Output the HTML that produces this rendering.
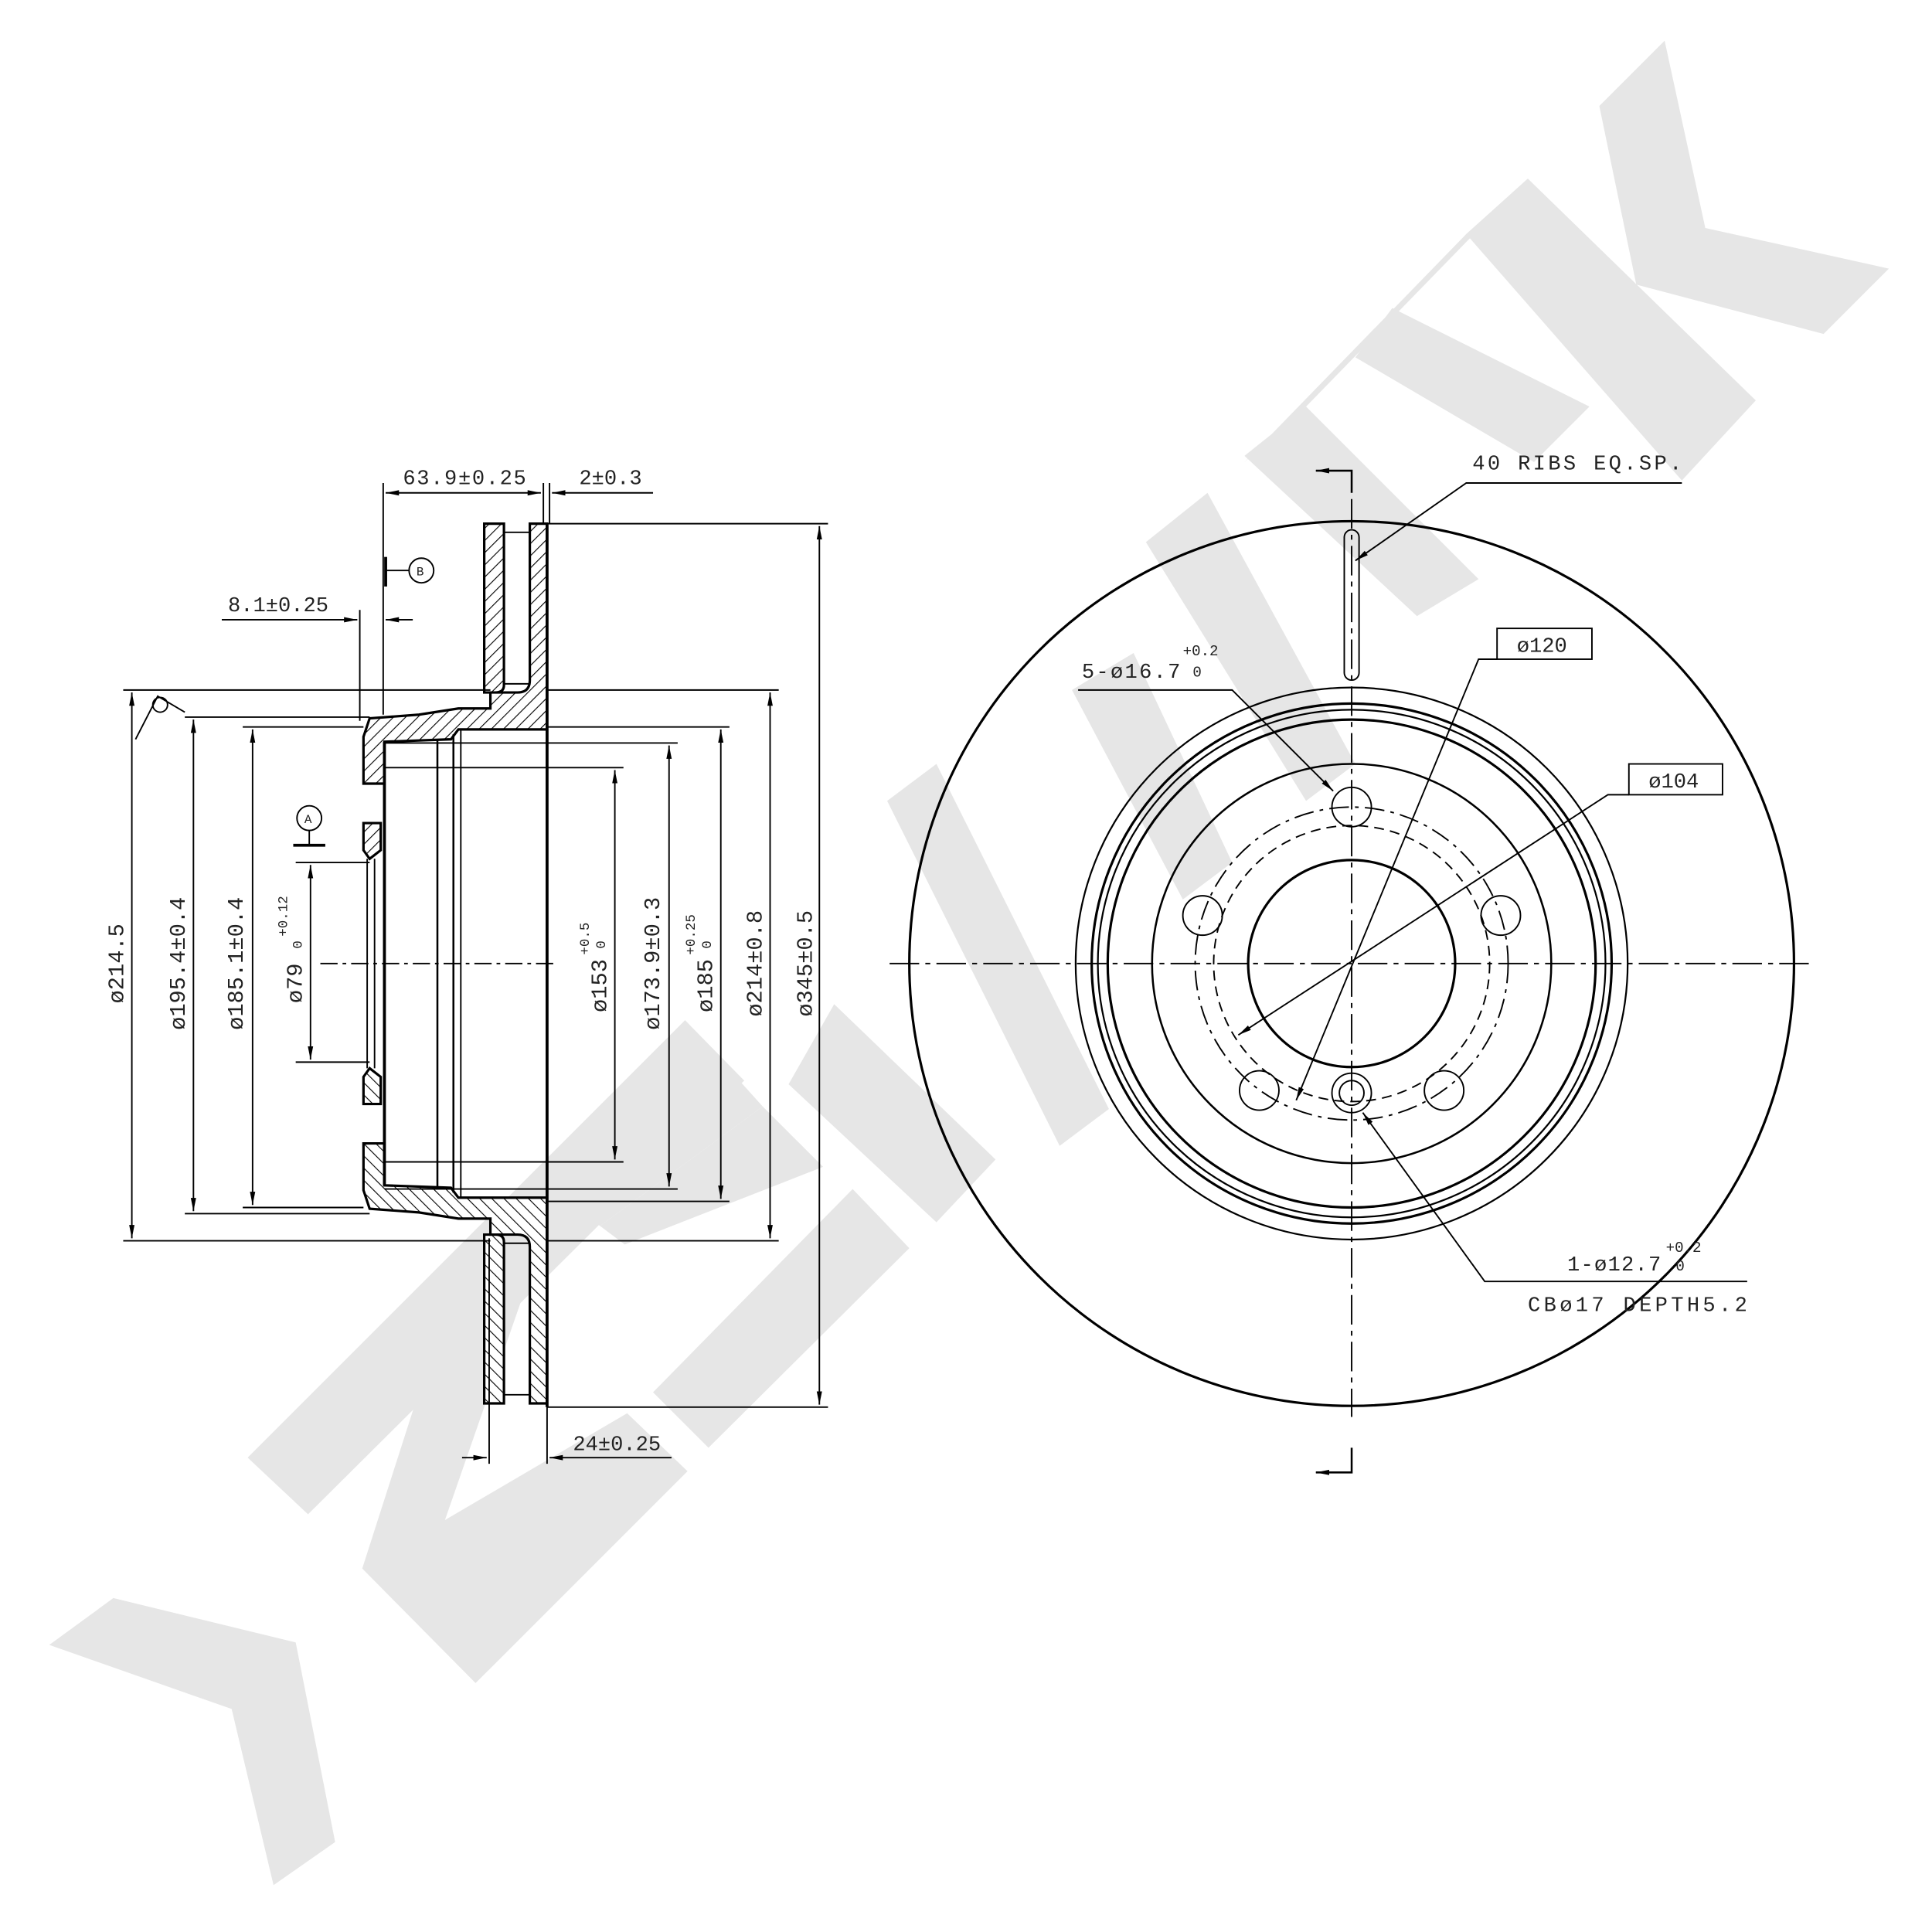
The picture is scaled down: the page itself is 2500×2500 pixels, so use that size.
<!DOCTYPE html>
<html><head><meta charset="utf-8"><style>
html,body{margin:0;padding:0;background:#fff}
svg{display:block}
text{font-family:"Liberation Mono",monospace;fill:#222}
</style></head><body>
<svg width="2500" height="2500" viewBox="0 0 1568 1568" xmlns="http://www.w3.org/2000/svg">
<defs>
<pattern id="h" patternUnits="userSpaceOnUse" width="7" height="7" patternTransform="rotate(45)">
<rect width="7" height="7" fill="#fff"/><line x1="0" y1="0" x2="0" y2="7" stroke="#000" stroke-width="1.4"/>
</pattern>
<marker id="a" viewBox="0 0 10 10" refX="10" refY="5" markerWidth="9" markerHeight="9" orient="auto-start-reverse"><path d="M0,3 L10,5 L0,7z" fill="#000"/></marker>
</defs>
<g fill="#e6e6e6">
<polygon points="40,1335 92,1297 240,1333 272,1495 222,1530 188,1387"/>
<polygon points="201,1183 556,828 604,877 250,1229"/>
<polygon points="379,1008 425,1050 345,1280 294,1273"/>
<polygon points="294,1273 386,1366 558,1194 509,1147"/>
<polygon points="619,898 668,947 507,1010 487,995"/>
<polygon points="556,828 619,898 487,995 440,960"/>
<polygon points="692,965 738,1013 575,1175 530,1130"/>
<polygon points="677,815 808,941 760,992 640,880"/>
<polygon points="720,650 760,620 900,900 860,930"/>
<polygon points="870,560 920,530 1000,700 960,730"/>
<polygon points="930,440 980,400 1100,620 1060,650"/>
<polygon points="1010,370 1060,330 1200,470 1150,500"/>
<polygon points="1190,190 1240,145 1060,330 1010,375"/>
<polygon points="1240,145 1425,325 1365,390 1190,190"/>
<polygon points="1130,250 1290,330 1245,375 1100,290"/>
<polygon points="1351,33 1384,185 1533,218 1480,271 1328,231 1298,86"/>
</g>
<g stroke="#000" fill="none" stroke-width="1.2">
<g id="half">
<path d="M393,425 L409,425 L409,556 Q409,562 402,562 L393,562 Z" fill="url(#h)" stroke-width="2"/>
<path d="M430,425 L444,425 L444,592 L372,592 L366,600 L312,602 L312,636 L295,636 L295,598 L300,583 L340,580 L372,575 L398,575 L398,562 L420,562 Q430,562 430,552 Z" fill="url(#h)" stroke-width="2"/>
<path d="M295,668 L309,668 L309,690 L300,697 L295,690 Z" fill="url(#h)" stroke-width="2"/>
<line x1="409" y1="432" x2="430" y2="432"/>
<line x1="409" y1="555" x2="430" y2="555"/>
</g>
<use href="#half" transform="translate(0,1564) scale(1,-1)"/>
<line x1="444" y1="425" x2="444" y2="1142" stroke-width="2.4"/>
<line x1="312" y1="602" x2="312" y2="962" stroke-width="2.4"/>
<line x1="298" y1="697" x2="298" y2="867"/>
<line x1="304" y1="697" x2="304" y2="867"/>
<line x1="355" y1="600" x2="355" y2="964" stroke-width="1.6"/>
<line x1="368" y1="596" x2="368" y2="968" stroke-width="1.6"/>
<line x1="374" y1="592" x2="374" y2="972"/>
<line x1="260" y1="782" x2="450" y2="782" stroke-dasharray="14,4,3,4"/>
<line x1="100" y1="560" x2="398" y2="560"/><line x1="444" y1="560" x2="632" y2="560"/>
<line x1="100" y1="1007" x2="398" y2="1007"/><line x1="444" y1="1007" x2="632" y2="1007"/>
<line x1="150" y1="582" x2="300" y2="582"/><line x1="150" y1="985" x2="300" y2="985"/>
<line x1="197" y1="590" x2="295" y2="590"/><line x1="197" y1="980" x2="295" y2="980"/>
<line x1="444" y1="590" x2="592" y2="590"/><line x1="444" y1="975" x2="592" y2="975"/>
<line x1="312" y1="603" x2="550" y2="603"/><line x1="312" y1="965" x2="550" y2="965"/>
<line x1="312" y1="623" x2="506" y2="623"/><line x1="312" y1="943" x2="506" y2="943"/>
<line x1="444" y1="425" x2="672" y2="425"/><line x1="444" y1="1142" x2="672" y2="1142"/>
<line x1="240" y1="700" x2="300" y2="700"/><line x1="240" y1="862" x2="300" y2="862"/>
<line x1="107" y1="562" x2="107" y2="1005" marker-start="url(#a)" marker-end="url(#a)"/>
<line x1="157" y1="584" x2="157" y2="983" marker-start="url(#a)" marker-end="url(#a)"/>
<line x1="205" y1="592" x2="205" y2="978" marker-start="url(#a)" marker-end="url(#a)"/>
<line x1="252" y1="702" x2="252" y2="860" marker-start="url(#a)" marker-end="url(#a)"/>
<line x1="499" y1="625" x2="499" y2="941" marker-start="url(#a)" marker-end="url(#a)"/>
<line x1="543" y1="605" x2="543" y2="963" marker-start="url(#a)" marker-end="url(#a)"/>
<line x1="585" y1="592" x2="585" y2="973" marker-start="url(#a)" marker-end="url(#a)"/>
<line x1="625" y1="562" x2="625" y2="1005" marker-start="url(#a)" marker-end="url(#a)"/>
<line x1="665" y1="427" x2="665" y2="1140" marker-start="url(#a)" marker-end="url(#a)"/>
<line x1="311" y1="392" x2="311" y2="580"/>
<line x1="441" y1="392" x2="441" y2="425"/><line x1="446" y1="392" x2="446" y2="425"/>
<line x1="313" y1="400" x2="439" y2="400" marker-start="url(#a)" marker-end="url(#a)"/>
<line x1="448" y1="400" x2="530" y2="400" marker-start="url(#a)"/>
<line x1="180" y1="503" x2="290" y2="503" marker-end="url(#a)"/>
<line x1="313" y1="503" x2="335" y2="503" marker-start="url(#a)"/>
<line x1="292" y1="495" x2="292" y2="585"/>
<line x1="313" y1="452" x2="313" y2="476" stroke-width="2.4"/>
<line x1="313" y1="463" x2="332" y2="463"/>
<circle cx="342" cy="463" r="10"/>
<circle cx="251" cy="664" r="10"/>
<line x1="251" y1="674" x2="251" y2="686"/>
<line x1="238" y1="686" x2="264" y2="686" stroke-width="2.4"/>
<polyline points="110,600 128,565 150,578"/>
<circle cx="130" cy="572" r="6"/>
<line x1="397" y1="1005" x2="397" y2="1188"/>
<line x1="444" y1="1142" x2="444" y2="1188"/>
<line x1="375" y1="1183" x2="395" y2="1183" marker-end="url(#a)"/>
<line x1="446" y1="1183" x2="545" y2="1183" marker-start="url(#a)"/>

<circle cx="1097" cy="782" r="359" stroke-width="2"/>
<circle cx="1097" cy="782" r="224" stroke-width="1.4"/>
<circle cx="1097" cy="782" r="211" stroke-width="2"/>
<circle cx="1097" cy="782" r="206" stroke-width="1.4"/>
<circle cx="1097" cy="782" r="198" stroke-width="2"/>
<circle cx="1097" cy="782" r="162" stroke-width="1.6"/>
<circle cx="1097" cy="782" r="84" stroke-width="2"/>
<circle cx="1097" cy="782" r="127" stroke-dasharray="16,5,3,5"/>
<circle cx="1097" cy="782" r="112" stroke-dasharray="8,5"/>
<circle cx="1097" cy="655" r="16"/>
<circle cx="1218" cy="743" r="16"/>
<circle cx="1172" cy="885" r="16"/>
<circle cx="1022" cy="885" r="16"/>
<circle cx="976" cy="743" r="16"/>
<circle cx="1097" cy="887" r="16"/>
<circle cx="1097" cy="887" r="10"/>
<rect x="1091" y="430" width="12" height="122" rx="6"/>
<line x1="722" y1="782" x2="1470" y2="782" stroke-dasharray="24,5,4,5"/>
<line x1="1097" y1="405" x2="1097" y2="1150" stroke-dasharray="24,5,4,5"/>
<polyline points="1068,382 1097,382 1097,400" stroke-width="1.6"/>
<line x1="1088" y1="382" x2="1068" y2="382" marker-end="url(#a)"/>
<polyline points="1068,1195 1097,1195 1097,1175" stroke-width="1.6"/>
<line x1="1088" y1="1195" x2="1068" y2="1195" marker-end="url(#a)"/>
<polyline points="1365,392 1190,392 1100,455" marker-end="url(#a)"/>
<rect x="1215" y="510" width="77" height="25"/>
<polyline points="1215,535 1200,535 1052,893" marker-end="url(#a)"/>
<rect x="1322" y="620" width="76" height="25"/>
<polyline points="1322,645 1305,645 1005,840" marker-end="url(#a)"/>
<polyline points="875,560 1000,560 1082,642" marker-end="url(#a)"/>
<polyline points="1418,1040 1205,1040 1106,903" marker-end="url(#a)"/>
</g>
<g font-size="17">
<text x="327" y="393" textLength="100">63.9±0.25</text>
<text x="470" y="393">2±0.3</text>
<text x="185" y="496">8.1±0.25</text>
<text x="465" y="1177">24±0.25</text>
<text x="1195" y="381" textLength="170">40 RIBS EQ.SP.</text>
<text x="1231" y="529">ø120</text>
<text x="1338" y="639">ø104</text>
<text x="878" y="550" textLength="80">5-ø16.7</text>
<text x="960" y="532" font-size="12">+0.2</text>
<text x="968" y="549" font-size="12">0</text>
<text x="1272" y="1031" textLength="76">1-ø12.7</text>
<text x="1352" y="1016" font-size="12">+0.2</text>
<text x="1360" y="1031" font-size="12">0</text>
<text x="1240" y="1064" textLength="178">CBø17 DEPTH5.2</text>
</g>
<g font-size="10"><text x="338" y="467">B</text><text x="247" y="668">A</text></g>
<g font-size="18">
<text transform="translate(100,782) rotate(-90)" text-anchor="middle">ø214.5</text>
<text transform="translate(150,782) rotate(-90)" text-anchor="middle">ø195.4±0.4</text>
<text transform="translate(197,782) rotate(-90)" text-anchor="middle">ø185.1±0.4</text>
<text transform="translate(245,798) rotate(-90)" text-anchor="middle">ø79</text>
<text transform="translate(233,760) rotate(-90)" font-size="11">+0.12</text>
<text transform="translate(245,770) rotate(-90)" font-size="11">0</text>
<text transform="translate(492,800) rotate(-90)" text-anchor="middle">ø153</text>
<text transform="translate(478,775) rotate(-90)" font-size="11">+0.5</text>
<text transform="translate(491,770) rotate(-90)" font-size="11">0</text>
<text transform="translate(535,782) rotate(-90)" text-anchor="middle">ø173.9±0.3</text>
<text transform="translate(578,800) rotate(-90)" text-anchor="middle">ø185</text>
<text transform="translate(564,775) rotate(-90)" font-size="11">+0.25</text>
<text transform="translate(577,770) rotate(-90)" font-size="11">0</text>
<text transform="translate(618,782) rotate(-90)" text-anchor="middle">ø214±0.8</text>
<text transform="translate(659,782) rotate(-90)" text-anchor="middle">ø345±0.5</text>
</g>
</svg>
</body></html>
